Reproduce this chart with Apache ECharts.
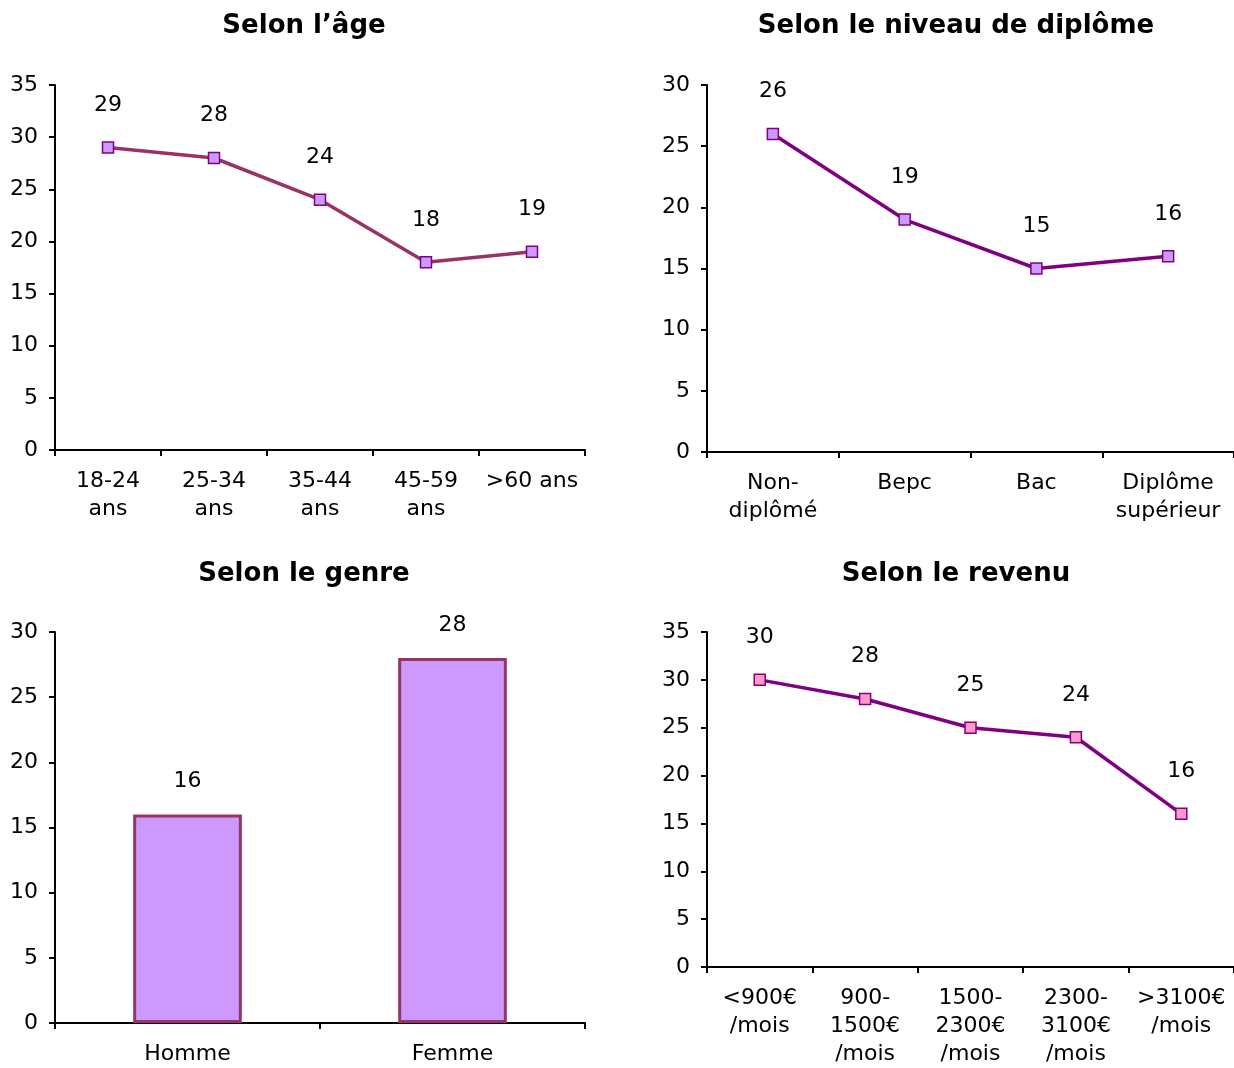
<!DOCTYPE html>
<html>
<head>
<meta charset="utf-8">
<script src="https://cdn.jsdelivr.net/npm/echarts@6/dist/echarts.min.js"></script>
<style>
  html, body { margin: 0; padding: 0; background: #ffffff; }
  #chart { width: 1234px; height: 1068px; }
</style>
</head>
<body>
<div id="chart"></div>
<script>
// ---- Data ----
const ageCats = ['18-24\nans', '25-34\nans', '35-44\nans', '45-59\nans', '>60 ans'];
const ageVals = [29, 28, 24, 18, 19];

const diplCats = ['Non-\ndiplômé', 'Bepc', 'Bac', 'Diplôme\nsupérieur'];
const diplVals = [26, 19, 15, 16];

const genreCats = ['Homme', 'Femme'];
const genreVals = [16, 28];

const revCats = ['<900€\n/mois', '900-\n1500€\n/mois', '1500-\n2300€\n/mois', '2300-\n3100€\n/mois', '>3100€\n/mois'];
const revVals = [30, 28, 25, 24, 16];

const titles = ['Selon l\u2019âge', 'Selon le niveau de diplôme', 'Selon le genre', 'Selon le revenu'];

// ---- Styling helpers ----
const FONT = 'DejaVu Sans';
const FS = 22;
const axisLine = { show: true, lineStyle: { color: '#000', width: 2 } };
const axisTick = { show: true, length: 6, lineStyle: { color: '#000', width: 2 } };

function xAxis(idx, cats) {
  return {
    type: 'category', gridIndex: idx, data: cats, boundaryGap: true,
    axisLine: axisLine, axisTick: axisTick,
    axisLabel: { color: '#000', fontSize: FS, lineHeight: 28, margin: 17, fontFamily: FONT, interval: 0 },
    splitLine: { show: false }
  };
}
function yAxis(idx, max) {
  return {
    type: 'value', gridIndex: idx, min: 0, max: max, interval: 5,
    axisLine: axisLine, axisTick: axisTick,
    axisLabel: { color: '#000', fontSize: FS, margin: 17, fontFamily: FONT },
    splitLine: { show: false }
  };
}
function lineSeries(idx, vals, lineColor, markerFill) {
  return {
    type: 'line', xAxisIndex: idx, yAxisIndex: idx, data: vals,
    symbol: 'rect', symbolSize: 11,
    lineStyle: { color: lineColor, width: 3.5 },
    itemStyle: { color: markerFill, borderColor: '#800080', borderWidth: 1.5 },
    label: { show: true, position: 'top', distance: 25, color: '#000', fontSize: FS, fontFamily: FONT },
    z: 3
  };
}

const option = {
  animation: false,
  backgroundColor: '#ffffff',
  textStyle: { fontFamily: FONT },
  title: [
    { text: titles[0], left: 304, top: 26 },
    { text: titles[1], left: 956, top: 26 },
    { text: titles[2], left: 304, top: 574 },
    { text: titles[3], left: 956, top: 574 }
  ].map(t => Object.assign(t, {
    textAlign: 'center', textVerticalAlign: 'middle', padding: 0,
    textStyle: { fontFamily: FONT, fontSize: 26, fontWeight: 'bold', color: '#000' }
  })),
  grid: [
    { left: 55, top: 85, width: 530, height: 365 },
    { left: 707, top: 85, width: 534, height: 367 },
    { left: 55, top: 632, width: 530, height: 393 },
    { left: 707, top: 632, width: 530, height: 338 }
  ],
  xAxis: [xAxis(0, ageCats), xAxis(1, diplCats), xAxis(2, genreCats), xAxis(3, revCats)],
  yAxis: [yAxis(0, 35), yAxis(1, 30), yAxis(2, 30), yAxis(3, 35)],
  series: [
    lineSeries(0, ageVals, '#993366', '#CC99FF'),
    lineSeries(1, diplVals, '#800080', '#CC99FF'),
    {
      type: 'bar', xAxisIndex: 2, yAxisIndex: 2, data: genreVals,
      barWidth: '41%',
      itemStyle: { color: '#CC99FF', borderColor: '#993366', borderWidth: 3 },
      label: { show: true, position: 'top', distance: 22, color: '#000', fontSize: FS, fontFamily: FONT }
    },
    lineSeries(3, revVals, '#800080', '#FF99CC')
  ]
};

const chart = echarts.init(document.getElementById('chart'), null, { renderer: 'canvas' });
chart.setOption(option);
</script>
</body>
</html>
